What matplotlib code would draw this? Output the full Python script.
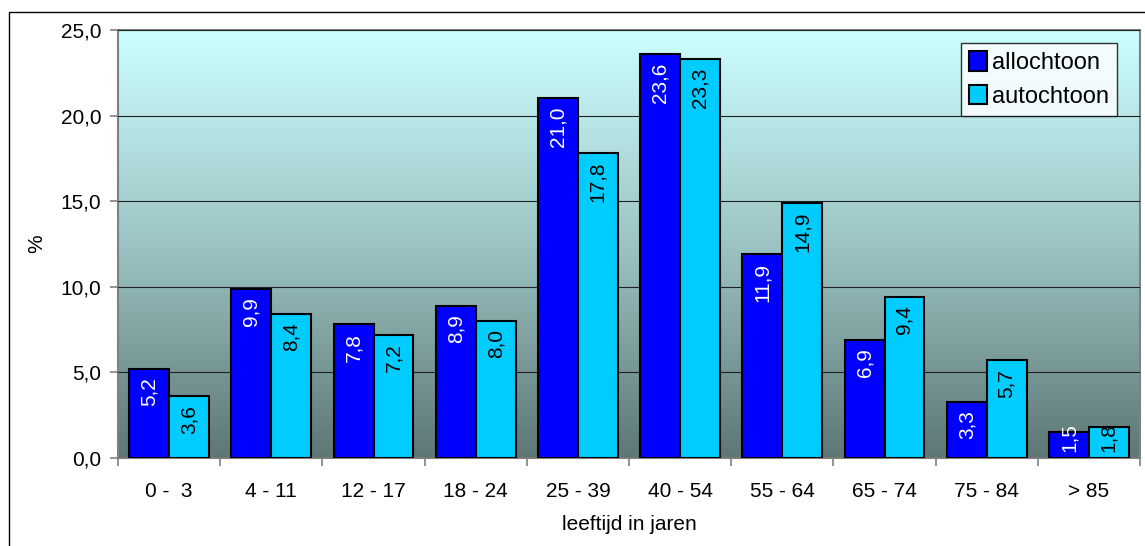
import numpy as np
import matplotlib.pyplot as plt
from matplotlib.colors import LinearSegmentedColormap
from matplotlib.patches import Rectangle

plt.rcParams['font.family'] = ['Liberation Sans', 'DejaVu Sans']

categories = ['0 -  3', '4 - 11', '12 - 17', '18 - 24', '25 - 39',
              '40 - 54', '55 - 64', '65 - 74', '75 - 84', '> 85']
allochtoon = [5.2, 9.9, 7.8, 8.9, 21.0, 23.6, 11.9, 6.9, 3.3, 1.5]
autochtoon = [3.6, 8.4, 7.2, 8.0, 17.8, 23.3, 14.9, 9.4, 5.7, 1.8]
y_ticks = [0, 5, 10, 15, 20, 25]

W, H = 1145, 546
fig = plt.figure(figsize=(W / 100, H / 100), dpi=100)
ax = fig.add_axes([118 / W, 1 - 458 / H, 1022 / W, 428 / H])

# outer chart border
fig.patches.append(Rectangle((9 / W, -0.01), 1.0, 1 - 12 / H + 0.01,
                             transform=fig.transFigure, fill=False,
                             edgecolor='black', linewidth=1.0, zorder=0))

# gradient plot background
cmap = LinearSegmentedColormap.from_list('bg', ['#5d7775', '#9cc4c4', '#ccffff'])
grad = np.linspace(0, 1, 256).reshape(-1, 1)
ax.imshow(grad, aspect='auto', cmap=cmap, origin='lower',
          extent=[-0.5, len(categories) - 0.5, 0, 25], zorder=0)

x = np.arange(len(categories))
bw = 0.39
b1 = ax.bar(x - bw / 2, allochtoon, bw, color='#0000ff', edgecolor='black',
            linewidth=1.5, label='allochtoon', zorder=3)
b2 = ax.bar(x + bw / 2, autochtoon, bw, color='#00ccff', edgecolor='black',
            linewidth=1.5, label='autochtoon', zorder=3)

for bars, vals, col in [(b1, allochtoon, 'white'), (b2, autochtoon, 'black')]:
    for r, v in zip(bars, vals):
        xc = r.get_x() + r.get_width() / 2
        txt = f'{v:.1f}'.replace('.', ',')
        if v < 2.5:
            # too short for the label: it starts just above the base
            ax.annotate(txt, (xc, 0), xytext=(0, 4), textcoords='offset points',
                        rotation=90, ha='center', va='bottom', color=col,
                        fontsize=15, zorder=4)
        else:
            ax.annotate(txt, (xc, v), xytext=(0, -6), textcoords='offset points',
                        rotation=90, ha='center', va='top', color=col,
                        fontsize=15, zorder=4)

ax.set_xlim(-0.5, len(categories) - 0.5)
ax.set_ylim(0, 25)
ax.set_yticks(y_ticks)
ax.set_yticklabels([f'{t:.1f}'.replace('.', ',') for t in y_ticks], fontsize=15)
ax.set_xticks(x)
ax.set_xticklabels(categories, fontsize=15)
ax.set_xticks(np.arange(-0.5, len(categories)), minor=True)
ax.tick_params(axis='x', which='major', length=0, pad=17)
ax.tick_params(axis='x', which='minor', length=6, color='#808080', width=1.2)
ax.tick_params(axis='y', length=6, color='#808080', width=1.2, pad=6)
ax.yaxis.grid(True, color='#202020', linewidth=0.8, zorder=1)
ax.set_axisbelow(False)
for s in ax.spines.values():
    s.set_color('#808080')
    s.set_linewidth(1.5)

ax.set_xlabel('leeftijd in jaren', fontsize=15, labelpad=10)
ax.set_ylabel('%', fontsize=15, labelpad=10)

leg = ax.legend(loc='upper right', bbox_to_anchor=(999 / 1022, 1 - 13 / 428),
                fontsize=17, frameon=True, fancybox=False, handlelength=0.75,
                handleheight=0.9, handletextpad=0.2, borderpad=0.35,
                labelspacing=0.45, borderaxespad=0)
leg.get_frame().set_edgecolor('black')
leg.get_frame().set_linewidth(1.0)

fig.savefig('out.png', dpi=100)
